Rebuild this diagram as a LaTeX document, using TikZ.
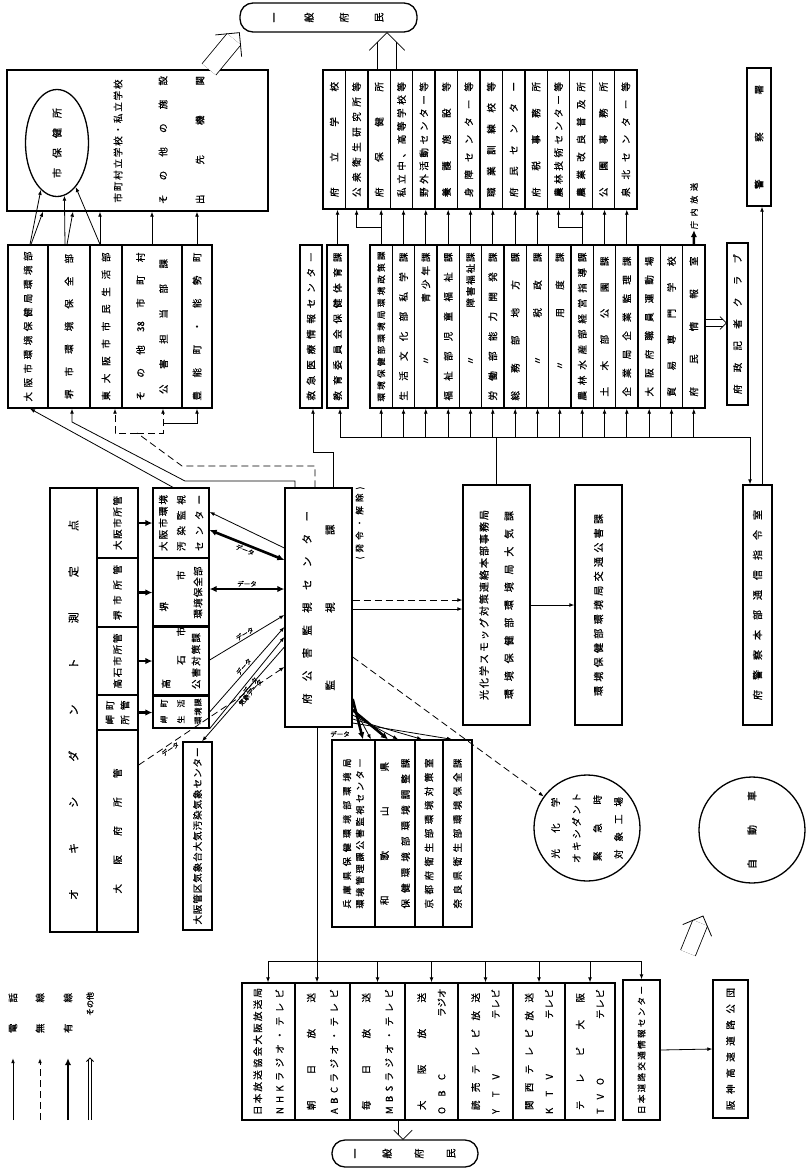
\documentclass[tikz,border=0pt]{standalone}
\usepackage{fontspec}
\setmainfont{Noto Sans CJK JP}[FakeBold=0.6]
\usetikzlibrary{arrows.meta,shapes.geometric,calc}
\makeatletter
\newcommand\spr[2]{\makebox[#1][s]{\@tfor\sprc:=#2\do{\sprc\hfill}\unskip}}
\makeatother
% double "other" arrow: distance, start, end, barb length
\newcommand\othr[4]{%
  \draw[ln, double, double distance=#1, shorten >=#1/2] (#2) -- (#3);
  \draw[ln] ($(#3)!#4!45:(#2)$) -- (#3) -- ($(#3)!#4!-45:(#2)$);}
\tikzset{
  box/.style={draw, line width=1.3pt, inner sep=1pt, align=center, font=\fontsize{9.5}{11}\selectfont},
  ls/.style={font=\fontsize{9.5}{#1}\selectfont},
  txt/.style={inner sep=0pt, align=center, font=\fontsize{9.5}{11}\selectfont},
  pub/.style={draw, line width=1.3pt, rounded corners=13pt, align=center},
  ln/.style={line width=.8pt},
  dsh/.style={dash pattern=on 7pt off 4pt},
  tel/.style={ln, -{Latex[length=5pt,width=3.8pt]}},
  rad/.style={tel, dsh},
  wire/.style={-{Latex[length=7pt,width=6.5pt]}, line width=2.6pt},
  wires/.style={{Latex[length=7pt,width=6.5pt]}-{Latex[length=7pt,width=6.5pt]}, line width=2.6pt},
  dlab/.style={sloped, rotate=-90, inner sep=1pt, font=\fontsize{6.5}{7}\selectfont},
}
\begin{document}
\begin{tikzpicture}[x=1pt, y=-1pt, every node/.append style={rotate=90}]
\useasboundingbox (0,0) rectangle (811,1168);

% general public, top
\node[pub, minimum width=29pt, minimum height=177pt, font=\fontsize{10}{35}\selectfont] (pubtop) at (328.5,17.5) {一\\般\\府\\民};

% health centres and schools
\node[box, minimum width=141pt, minimum height=261pt] (bigbox) at (137.5,140.5) {};
\node[ellipse, draw, line width=1.3pt, inner sep=0pt, minimum width=107pt, minimum height=63pt, font=\fontsize{10}{11}\selectfont] (hc) at (57,143) {\spr{70pt}{市保健所}};
\node[txt] (sch) at (118,141) {\spr{123pt}{市町村立学校・私立学校}};
\node[txt] (fac) at (163,140) {\spr{128pt}{その他の施設}};
\node[txt] (dep) at (200,140) {\spr{128pt}{出先機関}};

% municipal offices
\node[box, minimum width=163pt, minimum height=40pt] (bA) at (28,326.5) {\spr{150pt}{大阪市環境保健局環境部}};
\node[box, minimum width=163pt, minimum height=42pt] (bB) at (69,326.5) {\spr{145pt}{堺市環境保全部}};
\node[box, minimum width=163pt, minimum height=32pt] (bC) at (106,326.5) {\spr{148pt}{東大阪市市民生活部}};
\node[box, minimum width=163pt, minimum height=60pt, ls=23] (bD) at (152,326.5) {\spr{148pt}{その他{38}市町村}\\\spr{135pt}{公害担当部課}};
\node[box, minimum width=163pt, minimum height=30pt] (bE) at (197,326.5) {\spr{148pt}{豊能町・能勢町}};

% oxidant measuring points
\node[box, minimum width=444pt, minimum height=47pt, font=\fontsize{11}{12}\selectfont] (oxi) at (73.5,710) {\spr{380pt}{オキシダント測定点}};
\node[box, minimum width=70pt, minimum height=41pt] (km1) at (117.5,523) {\spr{54pt}{大阪市所管}};
\node[box, minimum width=69pt, minimum height=41pt] (km2) at (117.5,592.5) {\spr{55pt}{堺市所管}};
\node[box, minimum width=68pt, minimum height=41pt] (km3) at (117.5,661) {\spr{55pt}{高石市所管}};
\node[box, minimum width=35pt, minimum height=41pt, ls=15] (km4) at (117.5,712.5) {\spr{24pt}{岬町}\\\spr{24pt}{所管}};
\node[box, minimum width=202pt, minimum height=41pt] (km5) at (117.5,831) {\spr{125pt}{大阪府所管}};

% city offices
\node[box, minimum width=70pt, minimum height=56pt, ls=18] (oc) at (181,523) {\spr{56pt}{大阪市環境}\\\spr{56pt}{汚染監視}\\\spr{56pt}{センター}};
\node[box, minimum width=69pt, minimum height=56pt, ls=17] (sk) at (181,592.5) {\makebox[4em][l]{堺}\\\makebox[4.6em][r]{市}\\\spr{52pt}{環境保全部}};
\node[box, minimum width=68pt, minimum height=56pt, ls=15] (tk) at (181,661) {\makebox[5.8em][l]{高}\\\makebox[7.2em][r]{石\hspace{2em}市}\\\spr{56pt}{公害対策課}};
\node[box, minimum width=33pt, minimum height=56pt, font=\fontsize{8}{17}\selectfont] (mk) at (181,711.5) {\spr{24pt}{岬町}\\\spr{24pt}{生活}\\\spr{26pt}{環境課}};
\node[box, minimum width=188pt, minimum height=29pt] (kisho) at (197.5,836) {\spr{177pt}{大阪管区気象台大気汚染気象センター}};

% monitoring centre
\node[box, minimum width=239pt, minimum height=67pt, font=\fontsize{10.5}{23}\selectfont] (cen) at (318.5,607.5) {\spr{193pt}{府公害監視センター}\\\spr{166pt}{監視課}};
\node[txt, font=\fontsize{8.5}{9}\selectfont] (hatsu) at (360,523) {\spr{73pt}{(発令・解除)}};

% prefectural offices
\node[box, minimum width=163pt, minimum height=22pt] (kyu) at (311,326.5) {\spr{148pt}{救急医療情報センター}};
\node[box, minimum width=163pt, minimum height=21pt] (kyo) at (337.5,326.5) {\spr{148pt}{教育委員会保健体育課}};
\node[box, minimum width=163pt, minimum height=22.3pt, font=\fontsize{8.5}{9}\selectfont] (l1) at (381.2,326.5) {\spr{150pt}{環境保健部環境局環境政策課}};
\node[box, minimum width=163pt, minimum height=22.3pt] (l2) at (403.5,326.5) {\spr{148pt}{生活文化部私学課}};
\node[box, minimum width=163pt, minimum height=22.3pt] (l3) at (425.8,326.5) {\makebox[148pt]{\makebox[80pt]{〃}\hfill\spr{50pt}{青少年課}}};
\node[box, minimum width=163pt, minimum height=22.3pt] (l4) at (448.2,326.5) {\spr{148pt}{福祉部児童福祉課}};
\node[box, minimum width=163pt, minimum height=22.3pt] (l5) at (470.5,326.5) {\makebox[148pt]{\makebox[80pt]{〃}\hfill\spr{55pt}{障害福祉課}}};
\node[box, minimum width=163pt, minimum height=22.3pt] (l6) at (492.8,326.5) {\spr{148pt}{労働部能力開発課}};
\node[box, minimum width=163pt, minimum height=22.3pt] (l7) at (515.2,326.5) {\spr{148pt}{総務部地方課}};
\node[box, minimum width=163pt, minimum height=22.3pt] (l8) at (537.5,326.5) {\makebox[148pt]{\makebox[80pt]{〃}\hfill\spr{65pt}{税政課}}};
\node[box, minimum width=163pt, minimum height=22.3pt] (l9) at (559.8,326.5) {\makebox[148pt]{\makebox[70pt]{〃}\hfill\spr{65pt}{用度課}}};
\node[box, minimum width=163pt, minimum height=22.3pt] (l10) at (582.2,326.5) {\spr{148pt}{農林水産部経営指導課}};
\node[box, minimum width=163pt, minimum height=22.3pt] (l11) at (604.5,326.5) {\spr{140pt}{土木部公園課}};
\node[box, minimum width=163pt, minimum height=22.3pt] (l12) at (626.8,326.5) {\spr{140pt}{企業局企業監理課}};
\node[box, minimum width=163pt, minimum height=22.3pt] (l13) at (649.2,326.5) {\spr{140pt}{大阪府職員運動場}};
\node[box, minimum width=163pt, minimum height=22.3pt] (l14) at (671.5,326.5) {\spr{140pt}{貿易専門学校}};
\node[box, minimum width=163pt, minimum height=22.3pt] (l15) at (693.8,326.5) {\spr{140pt}{府民情報室}};

% schools and branch offices
\node[box, minimum width=139pt, minimum height=22.4pt] (r1) at (334.2,139.5) {\spr{115pt}{府立学校}};
\node[box, minimum width=139pt, minimum height=22.4pt] (r2) at (356.6,139.5) {\spr{115pt}{公衆衛生研究所等}};
\node[box, minimum width=139pt, minimum height=22.4pt] (r3) at (379.1,139.5) {\spr{115pt}{府保健所}};
\node[box, minimum width=139pt, minimum height=22.4pt] (r4) at (401.5,139.5) {\spr{115pt}{私立中、高等学校等}};
\node[box, minimum width=139pt, minimum height=22.4pt] (r5) at (423.9,139.5) {\spr{115pt}{野外活動センター等}};
\node[box, minimum width=139pt, minimum height=22.4pt] (r6) at (446.4,139.5) {\spr{115pt}{養護施設等}};
\node[box, minimum width=139pt, minimum height=22.4pt] (r7) at (468.8,139.5) {\spr{115pt}{身障センター等}};
\node[box, minimum width=139pt, minimum height=22.4pt] (r8) at (491.2,139.5) {\spr{115pt}{職業訓練校等}};
\node[box, minimum width=139pt, minimum height=22.4pt] (r9) at (513.7,139.5) {\spr{115pt}{府民センター}};
\node[box, minimum width=139pt, minimum height=22.4pt] (r10) at (536.1,139.5) {\spr{115pt}{府税事務所}};
\node[box, minimum width=139pt, minimum height=22.4pt] (r11) at (558.5,139.5) {\spr{115pt}{農林技術センター等}};
\node[box, minimum width=139pt, minimum height=22.4pt] (r12) at (581.0,139.5) {\spr{115pt}{農業改良普及所}};
\node[box, minimum width=139pt, minimum height=22.4pt] (r13) at (603.4,139.5) {\spr{115pt}{公園事務所}};
\node[box, minimum width=139pt, minimum height=22.4pt] (r14) at (625.8,139.5) {\spr{115pt}{泉北センター等}};

% press, police
\node[box, minimum width=162pt, minimum height=21pt] (kisha) at (737.5,324) {\spr{140pt}{府政記者クラブ}};
\node[box, minimum width=138pt, minimum height=24pt] (keisatsu) at (759,137) {\spr{104pt}{警察署}};
\node[txt, inner sep=1pt, font=\fontsize{8}{9}\selectfont] (choku) at (694,206) {\spr{46pt}{庁内放送}};
\node[box, minimum width=240pt, minimum height=67pt, font=\fontsize{10}{25}\selectfont] (kou) at (496.5,605) {\spr{190pt}{光化学スモッグ対策連絡本部事務局}\\\spr{188pt}{環境保健部環境局大気課}};
\node[box, minimum width=240pt, minimum height=47pt, font=\fontsize{10}{11}\selectfont] (kotsu) at (598.5,605) {\spr{182pt}{環境保健部環境局交通公害課}};
\node[box, minimum width=240pt, minimum height=29pt, font=\fontsize{10}{11}\selectfont] (fkei) at (757.5,605) {\spr{190pt}{府警察本部通信指令室}};

% neighbouring prefectures
\node[box, minimum width=187pt, minimum height=43pt, font=\fontsize{9}{13}\selectfont] (h1) at (353.5,833.5) {\spr{150pt}{兵庫県保健環境部環境局}\\\spr{150pt}{環境管理課公害監視センター}};
\node[box, minimum width=187pt, minimum height=40pt, ls=21] (h2) at (395,833.5) {\spr{143pt}{和歌山県}\\\spr{150pt}{保健環境部環境調整課}};
\node[box, minimum width=187pt, minimum height=28pt] (h3) at (429,833.5) {\spr{150pt}{京都府衛生部環境対策室}};
\node[box, minimum width=187pt, minimum height=29pt] (h4) at (457.5,833.5) {\spr{150pt}{奈良県衛生部環境保全課}};

% factories, cars
\node[circle, draw, line width=1.3pt, minimum size=106pt, inner sep=0pt, align=center, font=\fontsize{9.5}{21}\selectfont] (kcirc) at (587,828) {\spr{61pt}{光化学}\\\spr{70pt}{オキシダント}\\\spr{66pt}{緊急時}\\\spr{62pt}{対象工場}};
\node[circle, draw, line width=1.3pt, minimum size=106pt, inner sep=0pt, font=\fontsize{10}{11}\selectfont] (jido) at (752,830) {\spr{78pt}{自動車}};

% broadcasters
\node[box, minimum width=137pt, minimum height=53pt, ls=22] (b1) at (268.5,1051.5) {\spr{127pt}{日本放送協会大阪放送局}\\\spr{125pt}{NHKラジオ・テレビ}};
\node[box, minimum width=137pt, minimum height=55pt, ls=23] (b2) at (322.5,1051.5) {\spr{117pt}{朝日放送}\\\spr{125pt}{ABCラジオ・テレビ}};
\node[box, minimum width=137pt, minimum height=55pt, ls=23] (b3) at (377.5,1051.5) {\spr{117pt}{毎日放送}\\\spr{125pt}{MBSラジオ・テレビ}};
\node[box, minimum width=137pt, minimum height=53pt, ls=20] (b4) at (431.5,1051.5) {\spr{117pt}{大阪放送}\\\makebox[125pt]{\spr{40pt}{OBC}\hfill\spr{28pt}{ラジオ}}};
\node[box, minimum width=137pt, minimum height=55pt, ls=20] (b5) at (485.5,1051.5) {\spr{117pt}{読売テレビ放送}\\\makebox[125pt]{\spr{40pt}{YTV}\hfill\spr{30pt}{テレビ}}};
\node[box, minimum width=137pt, minimum height=52pt, ls=20] (b6) at (539,1051.5) {\spr{117pt}{関西テレビ放送}\\\makebox[125pt]{\spr{40pt}{KTV}\hfill\spr{30pt}{テレビ}}};
\node[box, minimum width=137pt, minimum height=50pt, ls=20] (b7) at (590,1051.5) {\spr{117pt}{テレビ大阪}\\\makebox[125pt]{\spr{36pt}{TVO}\hfill\spr{30pt}{テレビ}}};
\node[box, minimum width=140pt, minimum height=37pt, font=\fontsize{8.5}{9}\selectfont] (b8) at (641.5,1050) {\spr{128pt}{日本道路交通情報センター}};
\node[box, minimum width=138pt, minimum height=35pt] (hanshin) at (730.5,1049) {\spr{122pt}{阪神高速道路公団}};
\node[pub, minimum width=27pt, minimum height=146pt, font=\fontsize{10}{32}\selectfont] (pubbot) at (405,1153.5) {一\\般\\府\\民};

% legend
\node[txt] (lg1) at (13,1013) {\spr{40pt}{電話}};
\node[txt] (lg2) at (40,1013) {\spr{40pt}{無線}};
\node[txt] (lg3) at (68,1013) {\spr{40pt}{有線}};
\node[txt, font=\fontsize{8}{9}\selectfont] (lg4) at (90,1004) {その他};
\draw[tel] (lg1.west) ++(0,87) -- ++(0,-62);
\draw[rad] (lg2.west) ++(0,87) -- ++(0,-62);
\draw[wire] (lg3.west) ++(0,87) -- ++(0,-62);
\coordinate (lgS) at (90,1120);
\coordinate (lgE) at (90,1058);
\othr{2.5pt}{lgS}{lgE}{5pt}

% to health centres and schools
\draw[tel] (30,0 |- bA.east) -- (hc.161);
\draw[tel] (31,0 |- bA.east) -- (43,0 |- bigbox.west);
\draw[tel] (65,0 |- bB.east) -- (hc.188);
\draw[tel] (67,0 |- bB.east) -- (73,0 |- bigbox.west);
\draw[tel] (100,0 |- bC.east) -- (hc.203);
\draw[tel] (100,0 |- bC.east) -- (100,0 |- bigbox.west);
\draw[tel] (bD.east) -- (bD.east |- bigbox.west);
\draw[tel] (bE.east) -- (bE.east |- bigbox.west);

% centre to municipal offices
\draw[tel] (173,0 |- oc.east) -- (30,0 |- bA.west);
\draw[tel] (295,0 |- cen.east) |- (185,481) -- (72,422) -- (72,0 |- bB.west);
\coordinate (dj) at (137,433);
\draw[ln, dsh] (315,0 |- cen.east) |- (182,466) -- (dj);
\draw[rad] (dj) -| (115,0 |- bC.west);
\draw[rad] (dj) -| (163,0 |- bD.west);
\draw[tel] (163,423) -| (bE.west);
\draw[tel] (333,0 |- cen.east) |- (313,452) -- (313,0 |- kyu.west);

% liaison bus to prefectural offices
\coordinate (busL) at (340,437);
\coordinate (busR) at (750,437);
\draw[ln] (kou.east) -- (kou.east |- busL);
\draw[tel] (busL) -- (busR) -- (busR |- fkei.east);
\draw[tel] (busL) -- (busL |- kyo.west);
\draw[tel] (l1.west |- busL) -- (l1.west);
\draw[tel] (l2.west |- busL) -- (l2.west);
\draw[tel] (l3.west |- busL) -- (l3.west);
\draw[tel] (l4.west |- busL) -- (l4.west);
\draw[tel] (l5.west |- busL) -- (l5.west);
\draw[tel] (l6.west |- busL) -- (l6.west);
\draw[tel] (l7.west |- busL) -- (l7.west);
\draw[tel] (l8.west |- busL) -- (l8.west);
\draw[tel] (l9.west |- busL) -- (l9.west);
\draw[tel] (l10.west |- busL) -- (l10.west);
\draw[tel] (l11.west |- busL) -- (l11.west);
\draw[tel] (l12.west |- busL) -- (l12.west);
\draw[tel] (l13.west |- busL) -- (l13.west);
\draw[tel] (l14.west |- busL) -- (l14.west);
\draw[tel] (l15.west |- busL) -- (l15.west);

% offices to schools etc.
\draw[tel] (kyo.east) -- (kyo.east |- r1.west);
\draw[tel] (l1.east) -- (l1.east |- r3.west);
\draw[tel] (l1.east |- 0,227) -| (r2.west);
\draw[tel] (l2.east) -- (l2.east |- r4.west);
\draw[tel] (l3.east) -- (l3.east |- r5.west);
\draw[tel] (l4.east) -- (l4.east |- r6.west);
\draw[tel] (l5.east) -- (l5.east |- r7.west);
\draw[tel] (l6.east) -- (l6.east |- r8.west);
\draw[tel] (l7.east) -- (l7.east |- r9.west);
\draw[tel] (l8.east) -- (l8.east |- r10.west);
\draw[tel] (l10.east) -- (l10.east |- r12.west);
\draw[tel] (l10.east |- 0,227) -| (r11.west);
\draw[tel] (l11.east) -- (l11.east |- r13.west);
\draw[tel] (l12.east) -- (l12.east |- r14.west);

% information office, police
\draw[wire] (l15.east) -- (choku.west);
\coordinate (prS) at (l15.south |- 0,323);
\coordinate (prE) at (kisha.north |- 0,323);
\othr{6pt}{prS}{prE}{9pt}
\draw[tel] (762,0 |- fkei.east) -- (762,0 |- keisatsu.west);

% centre to liaison headquarters
\draw[rad] (cen.south |- 0,600) -- (kou.north |- 0,600);
\draw[tel] (cen.south |- 0,609) -- (kou.north |- 0,609);
\draw[tel] (kou.south) -- (kotsu.north);
\draw[rad] (cen.south |- 0,657) -- (kcirc);

% neighbouring prefectures
\draw[wire] (cen.south |- 0,699) -- (363,0 |- h1.east);
\draw[tel] (cen.south |- 0,705) -- (371,0 |- h1.east);
\draw[wire] (cen.south |- 0,710) -- (388,0 |- h2.east);
\draw[tel] (cen.south |- 0,715) -- (398,0 |- h2.east);
\draw[tel] (cen.south |- 0,719) -- (422,0 |- h3.east);
\draw[tel] (cen.south |- 0,723) -- (452,0 |- h4.east);
\node[txt, rotate=-90, font=\fontsize{6.5}{7}\selectfont] (dth) at (340,734) {データ};

% measuring points to city offices
\draw[wire] (km1.south) -- (km1.south -| oc.north);
\draw[wire] (km2.south) -- (km2.south -| sk.north);
\draw[wire] (km3.south) -- (km3.south -| tk.north);
\draw[wire] (km4.south) -- (km4.south -| mk.north);

% city offices and centre
\draw[tel] (cen.north |- 0,548) -- (oc.south |- 0,512);
\draw[wires] (oc.south |- 0,530) -- (cen.north |- 0,560) node[dlab, midway, below] {データ};
\draw[wires] (sk.south |- 0,589) -- (cen.north |- 0,589) node[dlab, midway, above] {データ};
\draw[tel] (tk.south |- 0,660) -- (cen.north |- 0,615) node[dlab, midway, above] {データ};
\draw[tel] (mk.south |- 0,712) -- (cen.north |- 0,627) node[dlab, midway, above] {データ};
\draw[tel] (mk.south west) -- (cen.north |- 0,637) node[dlab, midway, below] {データ};
\draw[tel] (cen.north |- 0,647) -- (202,0 |- kisho.east) node[dlab, pos=.45, below] {気象データ};
\draw[rad] (km5.south |- 0,765) -- (cen.north |- 0,667) node[dlab, pos=.2, below] {データ};

% broadcasters
\draw[tel] (317,0 |- cen.west) -- (317,0 |- b2.east);
\coordinate (busB) at (268,961);
\coordinate (busC) at (641,961);
\draw[ln] (busB) -- (busC);
\draw[tel] (busB) -- (busB |- b1.east);
\draw[tel] (b3.east |- busB) -- (b3.east);
\draw[tel] (b4.east |- busB) -- (b4.east);
\draw[tel] (b5.east |- busB) -- (b5.east);
\draw[tel] (b6.east |- busB) -- (b6.east);
\draw[tel] (b7.east |- busB) -- (b7.east);
\draw[tel] (b8.east |- busB) -- (b8.east);
\draw[tel] (b8.south) -- (hanshin.north);
\coordinate (bcS) at (403,0 |- b3.west);
\coordinate (bcE) at (403,0 |- pubbot.east);
\othr{9pt}{bcS}{bcE}{13pt}

% to the public
\coordinate (hcS) at (209,0 |- bigbox.east);
\othr{17pt}{hcS}{pubtop.north west}{24pt}
\coordinate (scS) at (387,0 |- r3.east);
\coordinate (scE) at (387,0 |- pubtop.west);
\othr{18pt}{scS}{scE}{25pt}
\coordinate (carS) at (688,953);
\coordinate (carE) at (703,916);
\othr{15pt}{carS}{carE}{22pt}
\end{tikzpicture}
\end{document}
